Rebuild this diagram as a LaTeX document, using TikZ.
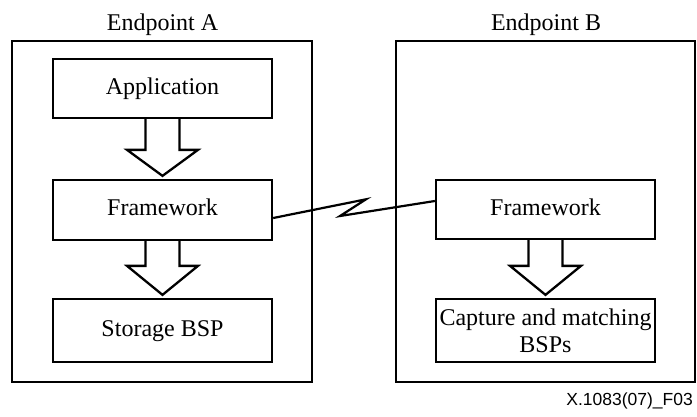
\documentclass[tikz,border=0pt]{standalone}
\usepackage{fontspec}
\setmainfont{Liberation Serif}
\newfontfamily\figsans{Liberation Sans}
\usetikzlibrary{calc}
\begin{document}
\begin{tikzpicture}[x=1bp,y=-1bp,
  outerbox/.style={draw, line width=2.5bp},
  inbox/.style={draw, line width=2.3bp, minimum width=219bp, inner sep=0pt,
     font=\fontsize{24bp}{27bp}\selectfont, text height=16bp, text depth=5bp},
  lbl/.style={font=\fontsize{24bp}{27bp}\selectfont, anchor=base, inner sep=0pt},
  barrow/.style={draw, fill=white, line width=2.3bp, line join=miter},
  conn/.style={line width=2.2bp, line join=miter}]
\useasboundingbox (0,0) rectangle (697,416);
% outer frames
\node[outerbox, inner sep=0pt, minimum width=300bp, minimum height=341bp] (epA) at (162,211.5) {};
\node[outerbox, inner sep=0pt, minimum width=299bp, minimum height=341bp] (epB) at (545.5,211.5) {};
\node[lbl] (labA) at (162.5,30) {Endpoint A};
\node[lbl] (labB) at (546,30) {Endpoint B};
% inner boxes
\node[inbox, minimum height=59bp] (app) at (162.5,88.5) {Application};
\node[inbox, minimum height=60bp] (fwA) at (162.5,210) {Framework};
\node[inbox, minimum height=63bp] (sto) at (162.5,330.5) {Storage BSP};
\node[inbox, minimum height=59bp] (fwB) at (545.5,209.5) {Framework};
\node[inbox, minimum height=63bp, align=center, text height=43bp, text depth=0bp] (cap) at (545.5,330.5) {Capture and matching\\BSPs};
% block arrows
\newcommand\blockarr[3]{%
  \draw[barrow] ($(#1.south)+(-17,0)$) -- ($(#2.north)+(-17,-#3-3)$) -- ($(#2.north)+(-35.5,-#3-3)$)
    -- ($(#2.north)+(0,-3)$) -- ($(#2.north)+(35.5,-#3-3)$) -- ($(#2.north)+(17,-#3-3)$)
    -- ($(#1.south)+(17,0)$);}
\blockarr{app}{fwA}{26}
\blockarr{fwA}{sto}{29}
\blockarr{fwB}{cap}{29}
% lightning connector
\coordinate (z1) at (366,199.3);
\coordinate (z2) at (340,216);
\draw[conn] ($(fwA.east)+(0,8)$) -- (z1) -- (z2) -- ($(fwB.west)+(0,-8.5)$);
% figure id
\node[font=\figsans\fontsize{17.5bp}{20bp}\selectfont, anchor=base east, inner sep=0pt] (fid) at (693,405) {X.1083(07)\_F03};
\end{tikzpicture}
\end{document}
